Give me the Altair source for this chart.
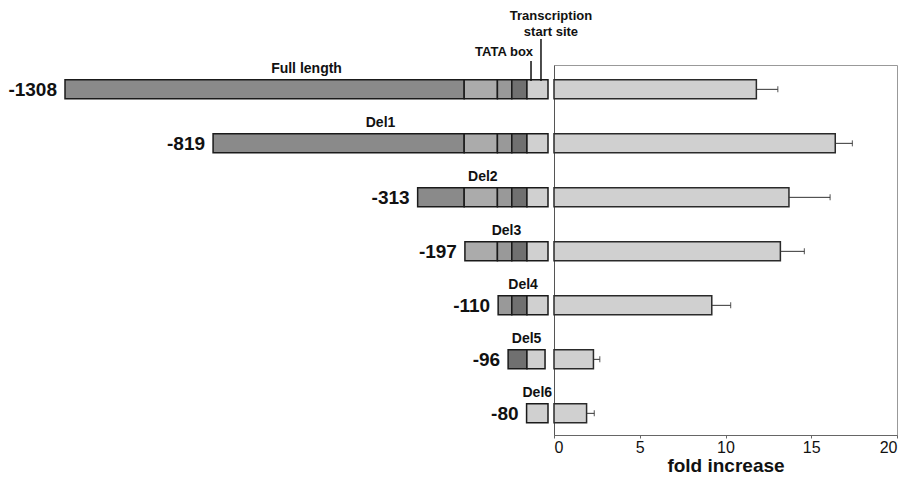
import altair as alt
import pandas as pd

FONT = "Liberation Sans"

# ---- constructs (rows) ----
constructs = ["Full length", "Del1", "Del2", "Del3", "Del4", "Del5", "Del6"]
start_labels = ["-1308", "-819", "-313", "-197", "-110", "-96", "-80"]
# schematic start / end of each construct drawing (schematic units, TSS end = 0)
construct_start = [-1308, -907, -353, -225, -135, -108, -58]
construct_end = [0, 0, 0, 0, 0, -8, 0]
# luciferase activity
fold_increase = [11.8, 16.4, 13.7, 13.2, 9.2, 2.3, 1.9]
fold_error = [1.25, 1.0, 2.4, 1.4, 1.1, 0.37, 0.45]

# ---- promoter schematic segments ----
seg_construct = (["Full length"] * 5 + ["Del1"] * 5 + ["Del2"] * 5 + ["Del3"] * 4
                 + ["Del4"] * 3 + ["Del5"] * 2 + ["Del6"])
seg_start = ([-1308, -227, -137, -98, -57] + [-907, -227, -137, -98, -57]
             + [-353, -227, -137, -98, -57] + [-225, -137, -98, -57]
             + [-135, -98, -57] + [-108, -57] + [-58])
seg_end = ([-227, -137, -98, -57, 0] + [-227, -137, -98, -57, 0]
           + [-227, -137, -98, -57, 0] + [-137, -98, -57, 0]
           + [-98, -57, 0] + [-57, -8] + [0])
seg_region = (["r1", "r2", "r3", "r4", "r5"] * 3 + ["r2", "r3", "r4", "r5"]
              + ["r3", "r4", "r5"] + ["r4", "r5"] + ["r5"])
region_names = ["r1", "r2", "r3", "r4", "r5"]
region_colors = ["#8a8a8a", "#ababab", "#999999", "#707070", "#d0d0d0"]

# ---- annotations ----
tata_x = -46
tss_x = -19
ann_tata_label_x = -119
ann_tss_label_x = 8

cons_df = pd.DataFrame({
    "construct": constructs,
    "label": start_labels,
    "start": construct_start,
    "end": construct_end,
    "fold": fold_increase,
    "err": fold_error,
})
seg_df = pd.DataFrame({
    "construct": seg_construct,
    "start": seg_start,
    "end": seg_end,
    "region": seg_region,
})

xL = alt.Scale(domain=[-1308, 0], nice=False, zero=False)
yscale = alt.Scale(domain=constructs, paddingInner=0.648, paddingOuter=0.25, align=0.55)
yL = alt.Y("construct:N", scale=yscale, axis=None)

segments = alt.Chart(seg_df).mark_bar(stroke="#1a1a1a", strokeWidth=1.5).encode(
    x=alt.X("start:Q", scale=xL, axis=None),
    x2="end:Q",
    y=yL,
    color=alt.Color("region:N", scale=alt.Scale(domain=region_names, range=region_colors), legend=None),
)

names = alt.Chart(cons_df).transform_calculate(
    mid="(datum.start + datum.end) / 2"
).mark_text(font=FONT, fontSize=14, fontWeight="bold", dy=-20, color="#111").encode(
    x=alt.X("mid:Q", scale=xL, axis=None),
    y=yL,
    text="construct:N",
)

starts = alt.Chart(cons_df).mark_text(
    font=FONT, fontSize=19, fontWeight="bold", align="right", baseline="middle", dx=-8, dy=1, color="#111"
).encode(
    x=alt.X("start:Q", scale=xL, axis=None),
    y=yL,
    text="label:N",
)

tata_rule = alt.Chart(pd.DataFrame({"x": [tata_x]})).mark_rule(color="#111", strokeWidth=1.5).encode(
    x=alt.X("x:Q", scale=xL, axis=None), y=alt.value(-4), y2=alt.value(16)
)
tss_rule = alt.Chart(pd.DataFrame({"x": [tss_x]})).mark_rule(color="#111", strokeWidth=1.5).encode(
    x=alt.X("x:Q", scale=xL, axis=None), y=alt.value(-26), y2=alt.value(16)
)
txt_style = dict(font=FONT, fontSize=13, fontWeight="bold", baseline="middle", color="#111")
tata_text = alt.Chart(pd.DataFrame({"x": [ann_tata_label_x], "t": ["TATA box"]})).mark_text(**txt_style).encode(
    x=alt.X("x:Q", scale=xL, axis=None), y=alt.value(-13), text="t:N"
)
tss_text1 = alt.Chart(pd.DataFrame({"x": [ann_tss_label_x], "t": ["Transcription"]})).mark_text(**txt_style).encode(
    x=alt.X("x:Q", scale=xL, axis=None), y=alt.value(-49), text="t:N"
)
tss_text2 = alt.Chart(pd.DataFrame({"x": [ann_tss_label_x], "t": ["start site"]})).mark_text(**txt_style).encode(
    x=alt.X("x:Q", scale=xL, axis=None), y=alt.value(-33), text="t:N"
)

left = alt.layer(segments, names, starts, tata_rule, tss_rule, tata_text, tss_text1, tss_text2).properties(
    width=483, height=370, view=alt.ViewBackground(strokeOpacity=0)
)

xR = alt.X(
    "fold:Q",
    scale=alt.Scale(domain=[0, 20], nice=False),
    axis=alt.Axis(values=[0, 5, 10, 15, 20], title="fold increase", grid=False,
                  labelFont=FONT, labelFontSize=16, labelColor="#111", labelPadding=1,
                  titleFont=FONT, titleFontSize=19, titleFontWeight="bold", titleColor="#111",
                  titlePadding=1, domainColor="#666", tickColor="#666", tickSize=3),
)
yR = alt.Y("construct:N", scale=yscale,
           axis=alt.Axis(labels=False, ticks=False, title=None, grid=False, domainColor="#555"))

bars = alt.Chart(cons_df).mark_bar(fill="#d0d0d0", stroke="#2a2a2a", strokeWidth=1.5).encode(x=xR, y=yR)
err_line = alt.Chart(cons_df).transform_calculate(hi="datum.fold + datum.err").mark_rule(
    color="#333", strokeWidth=1
).encode(x="fold:Q", x2="hi:Q", y=yR)
err_cap = alt.Chart(cons_df).transform_calculate(hi="datum.fold + datum.err").mark_tick(
    color="#333", thickness=1.2, size=6
).encode(x="hi:Q", y=yR)

right = alt.layer(bars, err_line, err_cap).properties(
    width=343, height=370, view=alt.ViewBackground(stroke="#999", strokeWidth=1)
)

chart = alt.hconcat(left, right, spacing=6, bounds="flush").properties(
    padding={"left": 0, "top": 2, "right": 0, "bottom": 0}
).configure(font=FONT)

chart.save("out.html", embed_options={"renderer": "svg", "actions": False})
